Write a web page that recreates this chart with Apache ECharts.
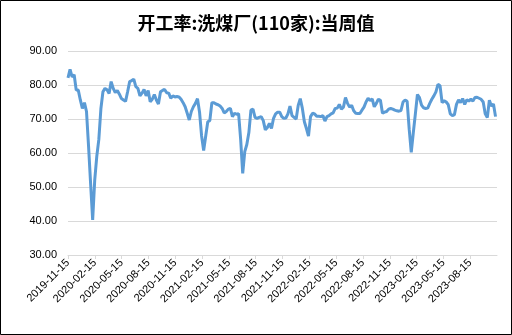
<!DOCTYPE html>
<html>
<head>
<meta charset="utf-8">
<script src="https://cdn.jsdelivr.net/npm/echarts@6/dist/echarts.min.js"></script>
<style>
html, body { margin: 0; padding: 0; background: #fff; }
#container { width: 512px; height: 335px; }
</style>
</head>
<body>
<div id="container"></div>
<script>
// 周度数据，首周 2019-11-15，每周一个点
var firstWeek = '2019-11-15';
var axisStart = '2019-11-15';
var axisEnd = '2023-11-15';
var yTicks = [30, 40, 50, 60, 70, 80, 90];

var values = [
	82.1, 84.6, 82.4, 83.0, 78.5, 78.5, 75.6, 73.1, 74.8, 72.2,
	62.0, 51.0, 40.3, 52.0, 59.0, 64.0, 73.0, 78.0, 79.0, 78.6,
	77.5, 81.0, 79.0, 77.8, 78.4, 77.3, 76.0, 75.6, 75.2, 78.0,
	81.0, 81.3, 81.7, 79.5, 79.0, 76.8, 77.6, 78.7, 76.8, 78.4,
	75.1, 75.8, 77.2, 75.6, 74.4, 78.0, 78.4, 78.7, 77.7, 77.6,
	76.1, 76.8, 76.5, 76.6, 76.5, 75.8, 74.8, 73.6, 71.7, 69.7,
	72.2, 73.6, 74.6, 76.0, 72.0, 65.0, 60.7, 65.0, 69.2, 69.5,
	74.8, 74.8, 74.4, 74.2, 73.8, 73.1, 71.8, 72.2, 72.9, 73.1,
	70.7, 71.7, 71.4, 71.6, 64.0, 54.0, 60.4, 62.5, 66.0, 72.6,
	72.9, 70.5, 70.2, 70.5, 70.7, 69.5, 66.8, 67.5, 68.7, 67.2,
	70.2, 71.5, 72.0, 72.0, 70.7, 70.2, 70.3, 71.5, 73.8, 71.0,
	70.5, 70.0, 74.0, 76.0, 73.2, 69.2, 67.2, 65.0, 70.7, 71.7,
	71.5, 70.8, 70.8, 70.7, 71.0, 69.4, 70.7, 71.0, 71.5, 71.8,
	73.1, 73.2, 74.3, 72.9, 73.5, 76.3, 74.6, 73.5, 74.0, 72.4,
	71.7, 71.6, 71.6, 72.6, 73.5, 75.0, 76.1, 75.4, 75.9, 73.6,
	74.6, 75.8, 75.5, 71.7, 72.0, 72.2, 72.9, 73.1, 72.9, 72.6,
	72.4, 72.3, 72.5, 75.0, 75.6, 75.2, 67.0, 60.2, 66.0, 71.5,
	77.2, 76.3, 74.1, 73.3, 73.1, 73.2, 74.6, 75.8, 76.8, 78.0,
	80.2, 79.8, 74.8, 75.4, 75.0, 74.2, 71.5, 71.0, 71.3, 74.3,
	75.6, 74.8, 76.0, 74.3, 75.6, 75.3, 75.8, 75.3, 76.3, 76.4,
	76.1, 75.8, 75.0, 71.5, 70.4, 75.5, 73.8, 74.4, 70.7
];

var DAY = 86400000;
var t0 = Date.parse(firstWeek);
var xMin = Date.parse(axisStart);
var xMax = Date.parse(axisEnd);
var step = (xMax - xMin) / 16; // 每3个月一个刻度

var lineData = values.map(function(v, i) {
	return [t0 + i * 7 * DAY, v];
});

function pad(n) { return n < 10 ? '0' + n : '' + n; }

var dom = document.getElementById("container");
var myChart = echarts.init(dom);
var option = {
	animation : false,
	title : {
		text : '开工率:洗煤厂(110家):当周值',
		left : 'center',
		top : 9,
		textStyle : {
			fontFamily : 'Noto Sans CJK SC',
			fontSize : 18,
			fontWeight : 'bold',
			color : '#000'
		}
	},
	graphic : [ {
		type : 'rect',
		shape : { x : 0.5, y : 0.5, width : 511, height : 334 },
		style : { fill : null, stroke : '#000', lineWidth : 1 }
	} ],
	grid : {
		left : 68,
		right : 15,
		top : 51,
		bottom : 80
	},
	xAxis : {
		type : 'value',
		min : xMin,
		max : xMax,
		interval : step,
		splitLine : { show : false },
		axisLine : { lineStyle : { color : '#d9d9d9' } },
		axisTick : { show : true, length : 4, lineStyle : { color : '#d9d9d9' } },
		axisLabel : {
			rotate : 45,
			showMaxLabel : false,
			margin : 6,
			fontFamily : 'Liberation Sans',
			fontSize : 11,
			color : '#000',
			formatter : function(v) {
				var k = Math.round((v - xMin) / step);
				var m = 10 + 3 * k; // 0-based month, 2019-11 = 10
				var y = 2019 + Math.floor(m / 12);
				return y + '-' + pad(m % 12 + 1) + '-15';
			}
		}
	},
	yAxis : {
		type : 'value',
		min : yTicks[0],
		max : yTicks[yTicks.length - 1],
		interval : yTicks[1] - yTicks[0],
		axisLine : { show : false },
		axisTick : { show : false },
		splitLine : { lineStyle : { color : '#d9d9d9' } },
		axisLabel : {
			margin : 11,
			fontFamily : 'Liberation Sans',
			fontSize : 11,
			color : '#000',
			formatter : function(v) { return v.toFixed(2); }
		}
	},
	series : [ {
		type : 'line',
		data : lineData,
		showSymbol : false,
		lineStyle : { color : '#5b9bd5', width : 3 },
		itemStyle : { color : '#5b9bd5' }
	} ]
};
myChart.setOption(option, true);
</script>
</body>
</html>
